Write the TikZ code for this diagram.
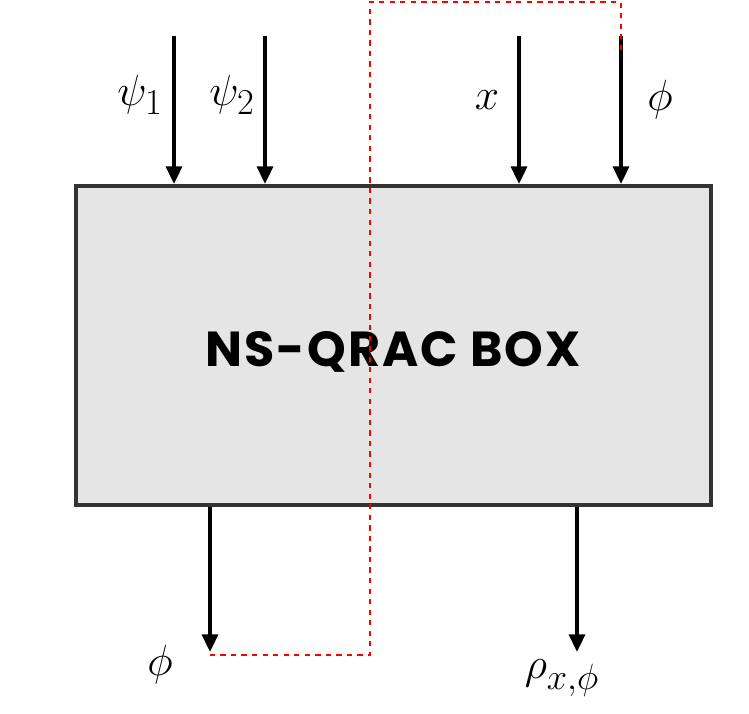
\documentclass[tikz,border=0pt]{standalone}
\usepackage{fontspec}
\newfontfamily\boxfont[LetterSpace=4]{Poppins}
\usetikzlibrary{arrows.meta}
\begin{document}
\begin{tikzpicture}[x=0.02cm, y=-0.02cm,
    wire/.style={-{Triangle[length=10pt,width=9pt]}, line width=2.1pt},
    feedback/.style={red, dashed, line width=1.1pt},
    lbl/.style={font=\fontsize{30}{32}\selectfont}]
    \useasboundingbox (0,0) rectangle (749,713);
    % Riquadro principale
    \node[draw=black!80, line width=2.3pt, fill=black!10, minimum width=12.7cm, minimum height=6.38cm, inner sep=0pt] (box) at (393.5,345.5) {};
    \node[font=\boxfont\bfseries\fontsize{28}{30}\selectfont] (title) at (393,352) {NS-QRAC BOX};

    % Ingressi
    \coordinate (in1) at (174,36);
    \coordinate (in2) at (265,36);
    \coordinate (in3) at (519,36);
    \coordinate (in4) at (621,36);
    \draw[wire] (in1) -- (in1 |- box.north);
    \draw[wire] (in2) -- (in2 |- box.north);
    \draw[wire] (in3) -- (in3 |- box.north);
    \draw[wire] (in4) -- (in4 |- box.north);
    \node[lbl] (psi1) at (140,95) {$\psi_1$};
    \node[lbl] (psi2) at (232,95) {$\psi_2$};
    \node[lbl] (xin) at (487,100) {$x$};
    \node[lbl, font=\fontsize{38}{40}\selectfont] (phiin) at (660,100) {$\phi$};

    % Uscite
    \coordinate (out1) at (210,652);
    \coordinate (out2) at (577,652);
    \draw[wire] (out1 |- box.south) -- (out1);
    \draw[wire] (out2 |- box.south) -- (out2);
    \node[lbl, font=\fontsize{38}{40}\selectfont] (phiout) at (160,665) {$\phi$};
    \node[lbl] (rho) at (562,678) {$\rho_{x,\phi}$};

    % Anello tratteggiato
    \draw[feedback] (621,50) -- (621,2) -- (370,2) -- (370,655) -- (210,655);
\end{tikzpicture}
\end{document}
